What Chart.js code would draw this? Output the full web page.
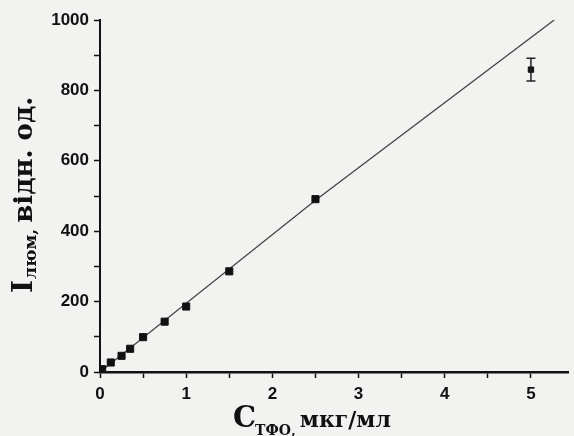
<!DOCTYPE html>
<html>
<head>
<meta charset="utf-8">
<script src="https://cdn.jsdelivr.net/npm/chart.js@4.4.1/dist/chart.umd.min.js"></script>
<style>
  body { margin: 0; background: #f2f2f0; }
  canvas { display: block; }
</style>
</head>
<body>
<canvas id="grafik" width="574" height="436"></canvas>
<script>
// дані, зчитані з рисунку
const concX = [0.025, 0.125, 0.25, 0.35, 0.5, 0.75, 1.0, 1.5, 2.5, 5.0];
const intensity = [8, 27, 46, 66, 99, 143, 186, 286, 491, 859];
const errors = [0, 0, 0, 0, 0, 0, 0, 0, 0, 32];
const fitX = [0, 2.5, 5.27];
const fitY = [0, 488, 1000];
const xTicks = [0, 0.5, 1, 1.5, 2, 2.5, 3, 3.5, 4, 4.5, 5];
const xLabels = [0, 1, 2, 3, 4, 5];
const yLabels = [0, 200, 400, 600, 800, 1000];

const points = concX.map((x, i) => ({ x: x, y: intensity[i] }));
const fitLine = fitX.map((x, i) => ({ x: x, y: fitY[i] }));

// фон як у скані
const tlo = {
  id: "tlo",
  beforeDraw(chart) {
    const ctx = chart.ctx;
    ctx.save();
    ctx.fillStyle = "#f2f2f0";
    ctx.fillRect(0, 0, chart.width, chart.height);
    ctx.restore();
  },
};

// похибки
const errorBars = {
  id: "errorBars",
  afterDatasetsDraw(chart) {
    const ctx = chart.ctx;
    const xs = chart.scales.x;
    const ys = chart.scales.y;
    ctx.save();
    ctx.strokeStyle = "#222";
    ctx.lineWidth = 1.5;
    errors.forEach((e, i) => {
      if (!e) return;
      const px = xs.getPixelForValue(concX[i]);
      const top = ys.getPixelForValue(intensity[i] + e);
      const bot = ys.getPixelForValue(intensity[i] - e);
      ctx.beginPath();
      ctx.moveTo(px, top); ctx.lineTo(px, bot);
      ctx.moveTo(px - 4.5, top); ctx.lineTo(px + 4.5, top);
      ctx.moveTo(px - 4.5, bot); ctx.lineTo(px + 4.5, bot);
      ctx.stroke();
    });
    ctx.restore();
  },
};

// підписи осей з нижніми індексами
function drawPieces(ctx, pieces) {
  let u = 0;
  pieces.forEach((p) => {
    ctx.font = p.font;
    ctx.fillText(p.text, u, p.dy);
    u += ctx.measureText(p.text).width + (p.gap || 0);
  });
}

const axisTitles = {
  id: "axisTitles",
  afterDraw(chart) {
    const ctx = chart.ctx;
    ctx.save();
    ctx.fillStyle = "#111";
    ctx.textBaseline = "alphabetic";
    ctx.textAlign = "left";
    // вісь X
    ctx.save();
    ctx.translate(233, 427);
    drawPieces(ctx, [
      { text: "C", font: "bold 29px 'DejaVu Serif'", dy: 0, gap: -1 },
      { text: "ТФО,", font: "bold 14px 'DejaVu Serif'", dy: 8, gap: 4 },
      { text: "мкг/мл", font: "bold 22px 'DejaVu Serif'", dy: 0 },
    ]);
    ctx.restore();
    // вісь Y
    ctx.save();
    ctx.translate(32, 293);
    ctx.rotate(-Math.PI / 2);
    drawPieces(ctx, [
      { text: "I", font: "bold 28px 'DejaVu Serif'", dy: 0, gap: 1 },
      { text: "люм,", font: "bold 17px 'DejaVu Serif'", dy: 4, gap: 6 },
      { text: "відн. од.", font: "bold 26px 'DejaVu Serif'", dy: 0 },
    ]);
    ctx.restore();
    ctx.restore();
  },
};

new Chart(document.getElementById("grafik"), {
  type: "scatter",
  data: {
    datasets: [
      {
        data: fitLine,
        showLine: true,
        borderColor: "#444",
        borderWidth: 1.3,
        pointRadius: 0,
        order: 2,
      },
      {
        data: points,
        backgroundColor: "#111",
        borderColor: "#111",
        pointStyle: "rect",
        pointRadius: (c) => (c.dataIndex === concX.length - 1 ? 3.8 : 5),
        order: 1,
      },
    ],
  },
  options: {
    responsive: false,
    animation: false,
    devicePixelRatio: 1,
    layout: { padding: { top: 20, right: 0, bottom: 0, left: 0 } },
    plugins: { legend: { display: false }, tooltip: { enabled: false } },
    scales: {
      x: {
        type: "linear",
        min: 0,
        max: 5.43,
        afterFit: (s) => { s.height = 64; },
        afterBuildTicks: (s) => {
          s.ticks = xTicks.map((v) => ({ value: v }));
        },
        border: { color: "#111", width: 2.5 },
        grid: { drawOnChartArea: false, tickLength: 6, color: "#111", tickWidth: 1.5 },
        ticks: {
          autoSkip: false,
          maxRotation: 0,
          padding: 6,
          color: "#111",
          font: { family: "'Liberation Sans'", size: 17, weight: "bold" },
          callback: (v) => (xLabels.includes(v) ? String(v) : ""),
        },
      },
      y: {
        min: 0,
        max: 1000,
        afterFit: (s) => { s.width = 100; },
        border: { color: "#111", width: 2 },
        grid: { drawOnChartArea: false, tickLength: 6, color: "#111", tickWidth: 1.5 },
        ticks: {
          stepSize: 100,
          autoSkip: false,
          padding: 5,
          color: "#111",
          font: { family: "'Liberation Sans'", size: 17, weight: "bold" },
          callback: (v) => (yLabels.includes(v) ? String(v) : ""),
        },
      },
    },
  },
  plugins: [tlo, errorBars, axisTitles],
});
</script>
</body>
</html>
